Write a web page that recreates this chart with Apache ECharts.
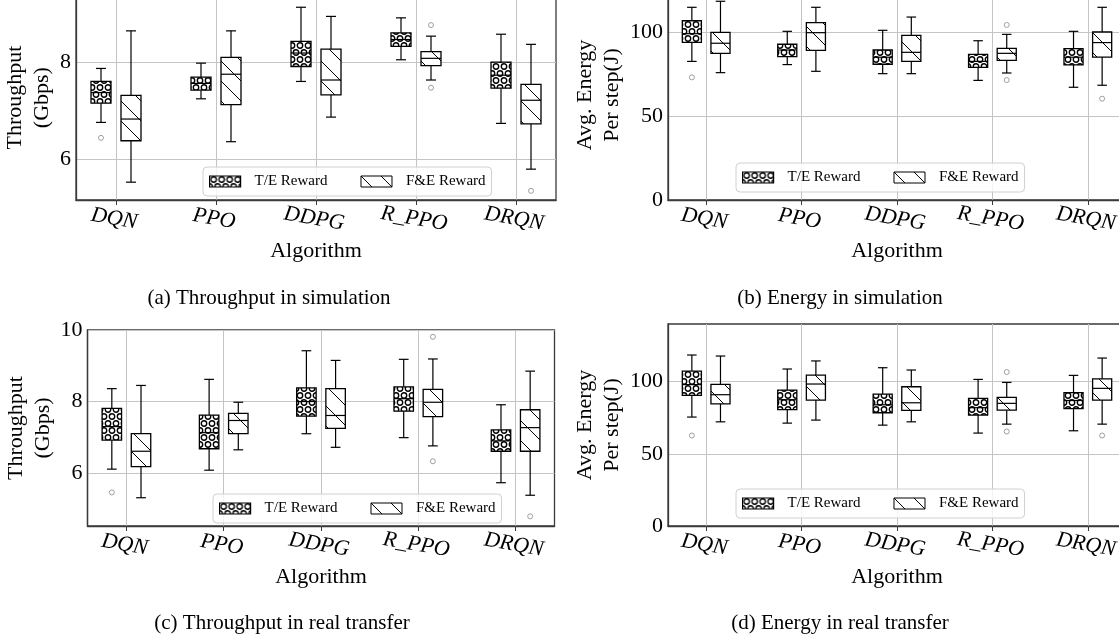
<!DOCTYPE html>
<html>
<head>
<meta charset="utf-8">
<script src="https://cdn.jsdelivr.net/npm/echarts@6/dist/echarts.min.js"></script>
<style>
html, body { margin: 0; padding: 0; background: #fff; }
#viz { width: 1119px; height: 643px; }
</style>
</head>
<body>
<div id="viz"></div>
<script>
var algos = ['DQN', 'PPO', 'DDPG', 'R_PPO', 'DRQN'];
var algoTicks = [1, 2, 3, 4, 5];

// each box: [min, q1, median, q3, max]
var thrSimTE = [[6.76, 7.16, 7.38, 7.61, 7.88], [7.25, 7.43, 7.57, 7.70, 7.99], [7.61, 7.92, 8.20, 8.44, 9.15], [8.06, 8.34, 8.48, 8.62, 8.93], [6.74, 7.47, 7.74, 8.01, 8.59]];
var thrSimFE = [[5.52, 6.38, 6.83, 7.32, 8.66], [6.36, 7.13, 7.76, 8.11, 8.66], [6.87, 7.33, 7.64, 8.28, 8.96], [7.64, 7.94, 8.09, 8.23, 8.55], [5.79, 6.73, 7.22, 7.55, 8.38]];
var thrSimOutTE = [[1, 6.44]];
var thrSimOutFE = [[4, 8.78], [4, 7.48], [5, 5.34]];

var engSimTE = [[82.5, 93.8, 99.0, 106.7, 114.7], [80.6, 85.3, 89.3, 92.7, 100.4], [75.2, 80.8, 85.0, 89.3, 101.0], [71.2, 79.0, 82.5, 86.7, 94.8], [67.1, 80.4, 85.0, 90.1, 100.4]];
var engSimFE = [[75.8, 87.3, 93.3, 99.8, 118.3], [76.6, 89.1, 99.6, 105.6, 114.7], [75.2, 82.5, 87.9, 98.0, 108.9], [75.6, 83.1, 87.3, 90.3, 98.6], [68.3, 85.1, 93.7, 100.0, 114.7]];
var engSimOutTE = [[1, 73.0]];
var engSimOutFE = [[4, 104.2], [4, 71.4], [5, 60.3]];

var thrRealTE = [[6.11, 6.92, 7.30, 7.81, 8.36], [6.08, 6.68, 7.13, 7.62, 8.62], [7.10, 7.59, 8.00, 8.38, 9.42], [6.99, 7.73, 8.08, 8.41, 9.18], [5.73, 6.61, 6.90, 7.21, 7.91]];
var thrRealFE = [[5.31, 6.18, 6.61, 7.10, 8.45], [6.65, 7.10, 7.47, 7.67, 7.98], [6.72, 7.25, 7.61, 8.36, 9.15], [6.76, 7.58, 7.98, 8.34, 9.19], [5.38, 6.61, 7.27, 7.77, 8.85]];
var thrRealOutTE = [[1, 5.46]];
var thrRealOutFE = [[4, 9.81], [4, 6.33], [5, 4.79]];

var engRealTE = [[75.5, 90.5, 98.0, 107.4, 118.5], [71.3, 80.6, 87.5, 94.2, 108.8], [69.9, 78.5, 84.0, 91.4, 109.7], [64.4, 76.9, 82.0, 88.4, 101.6], [66.0, 81.3, 87.0, 92.4, 104.4]];
var engRealFE = [[72.2, 84.7, 91.0, 98.1, 117.8], [73.4, 87.3, 98.4, 104.6, 114.4], [72.2, 80.1, 85.4, 96.5, 108.1], [70.6, 80.3, 85.0, 89.1, 99.5], [70.6, 87.3, 95.4, 101.9, 116.4]];
var engRealOutTE = [[1, 62.7]];
var engRealOutFE = [[4, 106.7], [4, 65.5], [5, 62.7]];

var thrTicksSim = [6, 8];
var thrTicksReal = [6, 8, 10];
var engTicks = [0, 50, 100];

var captions = ['(a) Throughput in simulation', '(b) Energy in simulation', '(c) Throughput in real transfer', '(d) Energy in real transfer'];

var SERIF = 'Liberation Serif';

/* hatch patterns like matplotlib 'o' and '\\' */
function circlePattern() {
    var c = document.createElement('canvas');
    c.width = 8; c.height = 14;
    var ctx = c.getContext('2d');
    ctx.fillStyle = '#fff';
    ctx.fillRect(0, 0, 8, 14);
    ctx.strokeStyle = '#000';
    ctx.lineWidth = 1.4;
    var pts = [[4, 3.5], [0, 10.5], [8, 10.5]];
    for (var i in pts) {
        ctx.beginPath();
        ctx.arc(pts[i][0], pts[i][1], 2.7, 0, Math.PI * 2);
        ctx.stroke();
    }
    return {image: c, repeat: 'repeat'};
}
function slashPattern() {
    var c = document.createElement('canvas');
    c.width = 20; c.height = 20;
    var ctx = c.getContext('2d');
    ctx.fillStyle = '#fff';
    ctx.fillRect(0, 0, 20, 20);
    ctx.strokeStyle = '#000';
    ctx.lineWidth = 1;
    ctx.beginPath();
    ctx.moveTo(-1, -1); ctx.lineTo(21, 21);
    ctx.stroke();
    return {image: c, repeat: 'repeat'};
}
var dotsFill = circlePattern();
var slashFill = slashPattern();

function makeBox(fill) {
    return function (params, api) {
        var x = api.value(0);
        var half = api.size([0.1, 0])[0];
        var cap = half / 2;
        var pMin = api.coord([x, api.value(1)]);
        var pQ1 = api.coord([x, api.value(2)]);
        var pMed = api.coord([x, api.value(3)]);
        var pQ3 = api.coord([x, api.value(4)]);
        var pMax = api.coord([x, api.value(5)]);
        var cx = pMin[0];
        function ln(x1, y1, x2, y2) {
            return {type: 'line', shape: {x1: x1, y1: y1, x2: x2, y2: y2}, style: {stroke: '#000', lineWidth: 1.2}};
        }
        return {type: 'group', children: [
            ln(cx, pMax[1], cx, pQ3[1]),
            ln(cx, pQ1[1], cx, pMin[1]),
            ln(cx - cap, pMax[1], cx + cap, pMax[1]),
            ln(cx - cap, pMin[1], cx + cap, pMin[1]),
            {type: 'rect', shape: {x: cx - half, y: pQ3[1], width: half * 2, height: pQ1[1] - pQ3[1]},
             style: {fill: fill, stroke: '#000', lineWidth: 1.3}},
            ln(cx - half, pMed[1], cx + half, pMed[1])
        ]};
    };
}

function boxData(boxes, off) {
    var out = [];
    for (var i = 0; i < boxes.length; i++) out.push([i + 1 + off].concat(boxes[i]));
    return out;
}
function outData(pts, off) {
    var out = [];
    for (var i in pts) out.push([pts[i][0] + off, pts[i][1]]);
    return out;
}

// layout of the 4 cropped panels
var panels = [
    {te: thrSimTE, fe: thrSimFE, oTe: thrSimOutTE, oFe: thrSimOutFE, ticks: thrTicksSim, min: 5.15, max: 9.4,
     name: 'Throughput\n(Gbps)', nameGap: 17, grid: {left: 76, right: 563, top: -4.8, bottom: 443},
     legend: {left: 203, top: 167}, cap: [269, 298]},
    {te: engSimTE, fe: engSimFE, oTe: engSimOutTE, oFe: engSimOutFE, ticks: engTicks, min: 0, max: 125,
     name: 'Avg. Energy\nPer step(J)', nameGap: 41, grid: {left: 668, right: -7, top: -10, bottom: 443},
     legend: {left: 736, top: 163}, cap: [840, 298]},
    {te: thrRealTE, fe: thrRealFE, oTe: thrRealOutTE, oFe: thrRealOutFE, ticks: thrTicksReal, min: 4.52, max: 10,
     name: 'Throughput\n(Gbps)', nameGap: 28, grid: {left: 87.5, right: 564.5, top: 330, bottom: 117},
     legend: {left: 213, top: 494}, cap: [282, 623]},
    {te: engRealTE, fe: engRealFE, oTe: engRealOutTE, oFe: engRealOutFE, ticks: engTicks, min: 0, max: 140,
     name: 'Avg. Energy\nPer step(J)', nameGap: 41, grid: {left: 668, right: -7, top: 324, bottom: 117},
     legend: {left: 736, top: 489}, cap: [840, 623]}
];

var option = {
    animation: false,
    backgroundColor: '#fff',
    grid: [], xAxis: [], yAxis: [], legend: [], series: [], graphic: []
};

for (var k = 0; k < panels.length; k++) {
    var p = panels[k];
    option.grid.push({
        left: p.grid.left, right: p.grid.right, top: p.grid.top, bottom: p.grid.bottom,
        show: true, borderColor: '#3a3a3a', borderWidth: 1.3, backgroundColor: 'transparent',
        outerBoundsMode: 'none', containLabel: false
    });
    option.xAxis.push({
        gridIndex: k, type: 'value', min: 0.6, max: 5.4,
        axisLine: {show: true, lineStyle: {color: '#3a3a3a', width: 1.3}},
        axisTick: {show: true, customValues: algoTicks, length: 5, lineStyle: {color: '#3a3a3a', width: 1}},
        axisLabel: {
            customValues: algoTicks,
            formatter: function (v) { return algos[Math.round(v) - 1]; },
            rotate: -10, align: 'center', verticalAlign: 'top', margin: 8,
            fontFamily: SERIF, fontStyle: 'italic', fontSize: 22, color: '#000'
        },
        splitLine: {show: true, lineStyle: {color: '#c4c4c4', width: 1}},
        name: 'Algorithm', nameLocation: 'middle', nameGap: 40,
        nameTextStyle: {fontFamily: SERIF, fontSize: 22, color: '#000'}
    });
    option.yAxis.push({
        gridIndex: k, type: 'value', min: p.min, max: p.max,
        axisLine: {show: true, lineStyle: {color: '#3a3a3a', width: 1.3}},
        axisTick: {show: false, customValues: p.ticks},
        axisLabel: {customValues: p.ticks, margin: 5, fontFamily: SERIF, fontSize: 22, color: '#000'},
        splitLine: {show: true, lineStyle: {color: '#c4c4c4', width: 1}},
        name: p.name, nameLocation: 'middle', nameGap: p.nameGap, nameRotate: 90,
        nameTextStyle: {fontFamily: SERIF, fontSize: 22, color: '#000', lineHeight: 27}
    });
    option.legend.push({
        left: p.legend.left, top: p.legend.top, orient: 'horizontal',
        selectedMode: false, icon: 'rect', itemWidth: 31, itemHeight: 11, itemGap: 33,
        padding: [7, 6, 7, 6],
        backgroundColor: 'rgba(255,255,255,0.8)', borderColor: '#d0d0d0', borderWidth: 1, borderRadius: 4,
        textStyle: {fontFamily: SERIF, fontSize: 15, color: '#000', padding: [0, 0, 0, 9]},
        data: [
            {name: 'T/E Reward', itemStyle: {color: dotsFill, borderColor: '#000', borderWidth: 1.2}},
            {name: 'F&E Reward', itemStyle: {color: slashFill, borderColor: '#000', borderWidth: 1}}
        ]
    });
    option.series.push({
        type: 'custom', name: 'T/E Reward', xAxisIndex: k, yAxisIndex: k,
        itemStyle: {color: dotsFill, borderColor: '#000'},
        renderItem: makeBox(dotsFill), encode: {x: 0, y: [1, 2, 3, 4, 5]},
        data: boxData(p.te, -0.15), z: 3
    });
    option.series.push({
        type: 'custom', name: 'F&E Reward', xAxisIndex: k, yAxisIndex: k,
        itemStyle: {color: slashFill, borderColor: '#000'},
        renderItem: makeBox(slashFill), encode: {x: 0, y: [1, 2, 3, 4, 5]},
        data: boxData(p.fe, 0.15), z: 3
    });
    option.series.push({
        type: 'scatter', name: 'outliers' + k, xAxisIndex: k, yAxisIndex: k,
        symbol: 'circle', symbolSize: 5,
        itemStyle: {color: '#fff', borderColor: '#8a8a8a', borderWidth: 1},
        data: outData(p.oTe, -0.15).concat(outData(p.oFe, 0.15)), z: 3
    });
    option.graphic.push({
        type: 'text', x: p.cap[0], y: p.cap[1],
        style: {text: captions[k], font: '21px "Liberation Serif"', fill: '#000', align: 'center', verticalAlign: 'middle'}
    });
}

var myChart = echarts.init(document.getElementById('viz'));
myChart.setOption(option);
</script>
</body>
</html>
